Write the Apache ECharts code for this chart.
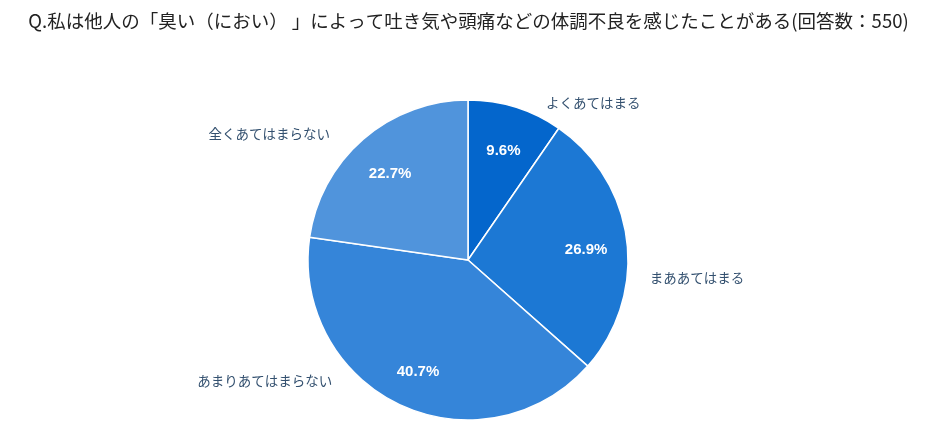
<!DOCTYPE html>
<html>
<head>
<meta charset="utf-8">
<script src="https://cdn.jsdelivr.net/npm/echarts@6/dist/echarts.min.js"></script>
<style>
  html, body { margin: 0; padding: 0; background: #fff; }
  #main { width: 937px; height: 424px; }
</style>
</head>
<body>
<div id="main"></div>
<script>
// Chart data
const titleText = "Q.私は他人の「臭い（におい） 」によって吐き気や頭痛などの体調不良を感じたことがある(回答数：550)";
const categories = ["よくあてはまる", "まああてはまる", "あまりあてはまらない", "全くあてはまらない"];
const percentValues = [9.6, 26.9, 40.7, 22.7];
const sliceColors = ["#0466cc", "#1c78d4", "#3585d9", "#5094dc"];

document.addEventListener("DOMContentLoaded", function () {
    var chartDom = document.getElementById("main");
    var myChart = echarts.init(chartDom);

    const pieData = categories.map((name, i) => ({
        name: name,
        value: percentValues[i],
        itemStyle: { color: sliceColors[i] }
    }));

    // Nudges for the outside labels, to sit where the original has them
    const labelNudge = [[-5, 3], [-18, 38], [-32, -32], [5, 1]];

    const option = {
        title: {
            text: titleText,
            left: "center",
            top: 7,
            textStyle: {
                fontFamily: "Noto Sans CJK JP",
                fontSize: 18.5,
                fontWeight: "normal",
                color: "#222"
            }
        },
        series: [
            {
                // visible slices + category labels outside
                type: "pie",
                center: [468, 260],
                radius: 160,
                startAngle: 90,
                clockwise: true,
                silent: true,
                itemStyle: { borderColor: "#fff", borderWidth: 1.5 },
                label: {
                    show: true,
                    position: "outside",
                    formatter: "{b}",
                    fontFamily: "Noto Sans CJK JP",
                    fontSize: 13.5,
                    color: "#33506f"
                },
                labelLine: { show: false, length: 8, length2: 28 },
                labelLayout: function (params) {
                    const n = labelNudge[params.dataIndex];
                    return { dx: n[0], dy: n[1] };
                },
                data: pieData
            },
            {
                // transparent ring only for the percent labels
                type: "pie",
                center: [468, 264],
                radius: [72, 160],
                startAngle: 90,
                clockwise: true,
                silent: true,
                itemStyle: { color: "rgba(0,0,0,0)" },
                label: {
                    show: true,
                    position: "inside",
                    formatter: function (p) { return p.value.toFixed(1) + "%"; },
                    fontFamily: "Liberation Sans",
                    fontWeight: "bold",
                    fontSize: 15,
                    color: "#fff"
                },
                labelLine: { show: false },
                data: percentValues.map((v, i) => ({ name: categories[i], value: v }))
            }
        ]
    };

    option && myChart.setOption(option);
});
</script>
</body>
</html>
